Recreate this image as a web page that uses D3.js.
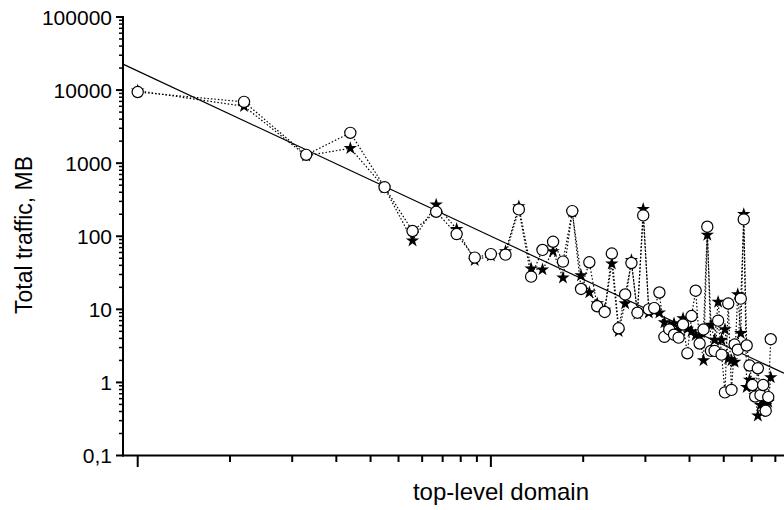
<!DOCTYPE html>
<html lang="en">
<head>
    <meta charset="utf-8">
    <title>Total traffic per top-level domain</title>
    <script type="text/javascript" src="https://cdn.jsdelivr.net/npm/d3@7"></script>
    <style type="text/css">
        body { margin: 0; background: #fff; }
        svg { display: block; }
        text { font-family: "Liberation Sans", Arial, Helvetica, sans-serif; fill: #000; }
    </style>
</head>
<body>
    <script type="text/javascript">
        // Rank of each domain (x) and traffic of the two series (y, MB)
        var ranks = d3.range(1, 63);

        var circleValues = [9400, 6900, 1300, 2600, 470, 118, 216, 107, 51, 57,
            56, 233, 28, 65, 84, 45, 221, 19, 44, 11,
            9.2, 58, 5.5, 16, 43, 9, 193, 10, 10.4, 17,
            4.2, 5.3, 4.5, 4.1, 6.2, 2.5, 8.1, 18, 3.4, 5.3,
            135, 2.7, 2.7, 7, 2.4, 0.73, 12, 0.79, 3.3, 2.8,
            14, 170, 3.2, 1.7, 0.92, 0.64, 1.56, 0.67, 0.92, 0.41,
            0.63, 3.9];

        var starValues = [9800, 6000, 1260, 1600, 460, 87, 270, 125, 47, 54,
            62, 255, 36, 35, 62, 27, 214, 29, 17, 12,
            9.8, 42, 5, 12, 47, 8.6, 235, 9, 9.5, 9,
            6.6, 5.9, 6.4, 5.2, 7.5, 5.4, 5, 4.4, 4.2, 2,
            104, 6.1, 3.8, 12.6, 3.8, 5.3, 2.1, 2, 1.9, 16,
            4.7, 200, 0.86, 1.08, 0.89, 0.67, 0.35, 0.49, 0.57, 0.49,
            0.54, 1.17];

        // Power-law fit: traffic = fitA * rank^-fitB
        var fitA = 18240;
        var fitB = 2.26;

        var yTickValues = [0.1, 1, 10, 100, 1000, 10000, 100000];
        var yTickLabels = ["0,1", "1", "10", "100", "1000", "10000", "100000"];
        var xMajorValues = [1, 10];
        var xMinorValues = [2, 3, 4, 5, 6, 7, 8, 9, 10, 20, 30, 40, 50, 60, 70];

        // Width and height
        var w = 784;
        var h = 510;

        var x = d3.scaleLog()
            .domain([0.9086, 67.6])
            .range([123, 784]);

        // the minor ticks of the original sit a bit left of the data scale
        var xMinor = x.copy().range([109, 770]);

        var y = d3.scaleLog()
            .domain([0.1, 100000])
            .range([455.5, 17]);

        var svg = d3.select("body")
            .append("svg")
            .attr("width", w)
            .attr("height", h);

        // Y axis: line, minor ticks, major ticks, labels
        var yMinor = [];
        yTickValues.slice(0, -1).forEach(function(d) {
            for (var k = 2; k <= 9; k++) yMinor.push(d * k);
        });

        var yAxis = svg.append("g");
        yAxis.append("line")
            .attr("x1", 123).attr("x2", 123)
            .attr("y1", y(100000) - 1).attr("y2", y(0.1) + 1)
            .attr("stroke", "#000").attr("stroke-width", 2);
        yAxis.selectAll("line.minor")
            .data(yMinor)
            .enter().append("line")
            .attr("class", "minor")
            .attr("x1", 119).attr("x2", 123)
            .attr("y1", function(d) { return y(d); })
            .attr("y2", function(d) { return y(d); })
            .attr("stroke", "#000").attr("stroke-width", 1.5);
        yAxis.selectAll("line.major")
            .data(yTickValues)
            .enter().append("line")
            .attr("class", "major")
            .attr("x1", 116).attr("x2", 123)
            .attr("y1", function(d) { return y(d); })
            .attr("y2", function(d) { return y(d); })
            .attr("stroke", "#000").attr("stroke-width", 2);
        yAxis.selectAll("text")
            .data(yTickValues)
            .enter().append("text")
            .attr("x", 112)
            .attr("y", function(d) { return y(d); })
            .attr("dy", "0.36em")
            .attr("text-anchor", "end")
            .style("font-size", "21px")
            .text(function(d, i) { return yTickLabels[i]; });

        // X axis
        var xAxis = svg.append("g");
        xAxis.append("line")
            .attr("x1", 122).attr("x2", 784)
            .attr("y1", 455.5).attr("y2", 455.5)
            .attr("stroke", "#000").attr("stroke-width", 2);
        xAxis.selectAll("line.minor")
            .data(xMinorValues)
            .enter().append("line")
            .attr("class", "minor")
            .attr("x1", function(d) { return xMinor(d); })
            .attr("x2", function(d) { return xMinor(d); })
            .attr("y1", 455.5).attr("y2", 462)
            .attr("stroke", "#000").attr("stroke-width", 2);
        xAxis.selectAll("line.major")
            .data(xMajorValues)
            .enter().append("line")
            .attr("class", "major")
            .attr("x1", function(d) { return x(d); })
            .attr("x2", function(d) { return x(d); })
            .attr("y1", 455.5).attr("y2", 467)
            .attr("stroke", "#000").attr("stroke-width", 2);

        // Axis titles
        svg.append("text")
            .attr("transform", "translate(32,235) rotate(-90)")
            .attr("text-anchor", "middle")
            .style("font-size", "23px")
            .text("Total traffic, MB");

        svg.append("text")
            .attr("x", 501)
            .attr("y", 500)
            .attr("text-anchor", "middle")
            .style("font-size", "24px")
            .text("top-level domain");

        // Fit line
        var fitLine = d3.line()
            .x(function(d) { return x(d); })
            .y(function(d) { return y(fitA * Math.pow(d, -fitB)); });
        svg.append("path")
            .datum(x.domain())
            .attr("d", fitLine)
            .attr("fill", "none")
            .attr("stroke", "#000")
            .attr("stroke-width", 1.2);

        // Dotted connecting lines
        var dotted = d3.line()
            .x(function(d) { return x(d[0]); })
            .y(function(d) { return y(d[1]); });

        [starValues, circleValues].forEach(function(vals) {
            svg.append("path")
                .datum(ranks.map(function(r, i) { return [r, vals[i]]; }))
                .attr("d", dotted)
                .attr("fill", "none")
                .attr("stroke", "#000")
                .attr("stroke-width", 1.2)
                .attr("stroke-dasharray", "1.5,2");
        });

        // Stars
        var star = d3.symbol().type(d3.symbolStar).size(56);
        svg.selectAll("path.star")
            .data(ranks)
            .enter().append("path")
            .attr("class", "star")
            .attr("d", star)
            .attr("transform", function(d, i) {
                return "translate(" + x(d) + "," + y(starValues[i]) + ")";
            })
            .attr("fill", "#000");

        // Open circles
        svg.selectAll("circle.pt")
            .data(ranks)
            .enter().append("circle")
            .attr("class", "pt")
            .attr("cx", function(d) { return x(d); })
            .attr("cy", function(d, i) { return y(circleValues[i]); })
            .attr("r", 5.6)
            .attr("fill", "#fff")
            .attr("stroke", "#000")
            .attr("stroke-width", 1.2);
    </script>
</body>
</html>
